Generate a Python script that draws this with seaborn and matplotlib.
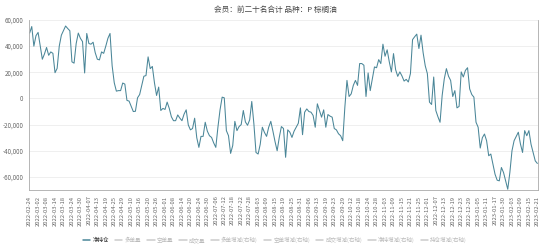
import numpy as np
import pandas as pd
import matplotlib
matplotlib.use("Agg")
import matplotlib.pyplot as plt
import seaborn as sns
from matplotlib.lines import Line2D

# ---- data ----
start_date = "2022-02-24"
holidays = ["2022-04-04", "2022-04-05", "2022-05-02", "2022-05-03", "2022-05-04",
            "2022-06-03", "2022-09-12", "2022-10-03", "2022-10-04", "2022-10-05",
            "2022-10-06", "2022-10-07", "2023-01-02", "2023-01-23", "2023-01-24",
            "2023-01-25", "2023-01-26", "2023-01-27"]

net_position = [
    50000, 55000, 40000, 48000, 50500, 40000, 30000, 34000, 39000, 33000,
    35600, 34500, 19700, 23000, 40000, 48400, 52000, 55400, 53500, 51800,
    28000, 27000, 42000, 50000, 46000, 43500, 19500, 49700, 42000, 41500,
    43000, 35000, 30000, 29500, 35600, 34500, 40000, 46000, 49700, 25000,
    12000, 5600, 6000, 6000, 11800, 11000, -1500, -2000, -6000, -10000,
    -9800, 500, 3000, 10000, 17000, 17500, 31800, 22800, 24500, 12000,
    2300, 8700, -9200, -7600, -8400, -2800, -7600, -14000, -17000, -17000,
    -12600, -15000, -17000, -12000, -8700, -20300, -24000, -23000, -15100, -30000,
    -37400, -29000, -29000, -18200, -25000, -28500, -29800, -34000, -37400, -22000,
    -8700, 1000, 500, -24600, -28500, -42000, -36000, -17500, -24600, -21500,
    -20000, -9200, -18000, -20500, -16400, -2300, -19400, -41300, -42500, -35000,
    -22000, -26000, -29000, -22000, -17500, -25000, -33000, -40000, -29800, -21500,
    -23000, -45000, -24000, -25800, -29800, -25000, -22000, -19000, -7200, -27700,
    -10500, -8000, -10000, -10500, -13000, -22000, -4100, -9200, -14300, -8700,
    -22000, -12300, -13500, -14300, -23000, -24000, -27000, -28500, -32300, -6700,
    13800, 1500, 3500, 10000, 13800, 10000, 26700, 26700, 25400, 1500,
    19500, 6000, 15000, 24100, 23500, 29700, 26700, 41500, 32300, 37200,
    28000, 20300, 34300, 22000, 16900, 20300, 17200, 13300, 14600, 12600,
    19000, 45000, 47200, 49200, 38200, 48400, 35000, 25000, 19000, -2800,
    -4600, 16400, -9200, -14000, -18200, 2300, 15000, 22800, 17000, 13800,
    1500, 6000, -7200, -6100, 20300, 16400, 21500, 23500, 7300, 3000,
    1000, -18200, -22000, -37900, -30000, -27200, -32300, -43800, -42500, -50200,
    -58000, -62500, -63000, -52800, -56600, -63000, -69400, -56600, -40000, -32300,
    -29000, -25800, -34800, -41300, -24600, -28500, -24600, -35000, -41300, -47700,
    -49700,
]

legend_labels = ["净持仓", "多单量", "空单量", "成交量", "多单增减(右轴)",
                 "空单增减(右轴)", "成交增减(右轴)", "净持增减(右轴)", "持仓增减(右轴)"]
title_text = "会员：前二十名合计 品种：P 棕榈油"
y_ticks = [-60000, -40000, -20000, 0, 20000, 40000, 60000]

# ---- trading dates ----
bdays = pd.bdate_range(start_date, periods=300)
bdays = [d for d in bdays if d.strftime("%Y-%m-%d") not in holidays]
dates = [d.strftime("%Y-%m-%d") for d in bdays[:len(net_position)]]

df = pd.DataFrame({"date": dates, "net": net_position})

# ---- style ----
sns.set_theme(style="white")
plt.rcParams['font.family'] = ['Noto Sans CJK SC', 'DejaVu Sans']
plt.rcParams['axes.unicode_minus'] = False

fig = plt.figure(figsize=(5.5, 2.5), dpi=100)
ax = fig.add_axes([29/550, 1-190/250, (538-29)/550, (190-20)/250])

line_color = "#4a8698"
sns.lineplot(data=df, x="date", y="net", ax=ax, color=line_color, linewidth=0.75,
             sort=False, legend=False)

n = len(dates)
ax.set_xlim(-0.3, n - 1 + 0.3)
ax.set_ylim(-70000, 60000)
ax.set_yticks(y_ticks)
ax.set_yticklabels([f"{v:,}" for v in y_ticks], fontsize=4.5, color="#666666")
ax.set_xticks(list(range(0, n, 4)))
ax.set_xticklabels(dates[::4], rotation=90, fontsize=4.2, color="#666666")
ax.tick_params(axis="x", length=2.5, width=0.5, color="#999999", pad=1.5)
ax.tick_params(axis="y", length=2.5, width=0.5, color="#999999", pad=1.5)
ax.set_xlabel("")
ax.set_ylabel("")
ax.grid(axis="y", color="#ececec", linewidth=0.6)
ax.set_axisbelow(True)
ax.spines["top"].set_visible(False)
for s in ["left", "right", "bottom"]:
    ax.spines[s].set_color("#aaaaaa")
    ax.spines[s].set_linewidth(0.6)

fig.text(0.5, 1-10/250, title_text, ha="center", va="center", fontsize=5.5,
         color="#444444", fontweight="medium")

handles = []
for i, lab in enumerate(legend_labels):
    c = line_color if i == 0 else "#cccccc"
    handles.append(Line2D([0], [0], color=c, linewidth=1.1))
leg = fig.legend(handles, legend_labels, loc="center", bbox_to_anchor=(0.5, 1-240/250),
                 ncol=len(legend_labels), fontsize=4.0, frameon=False,
                 handlelength=1.3, handletextpad=0.4, columnspacing=1.1)
for i, t in enumerate(leg.get_texts()):
    t.set_color("#333333" if i == 0 else "#bbbbbb")

fig.savefig("out.png", dpi=100, facecolor="white")
